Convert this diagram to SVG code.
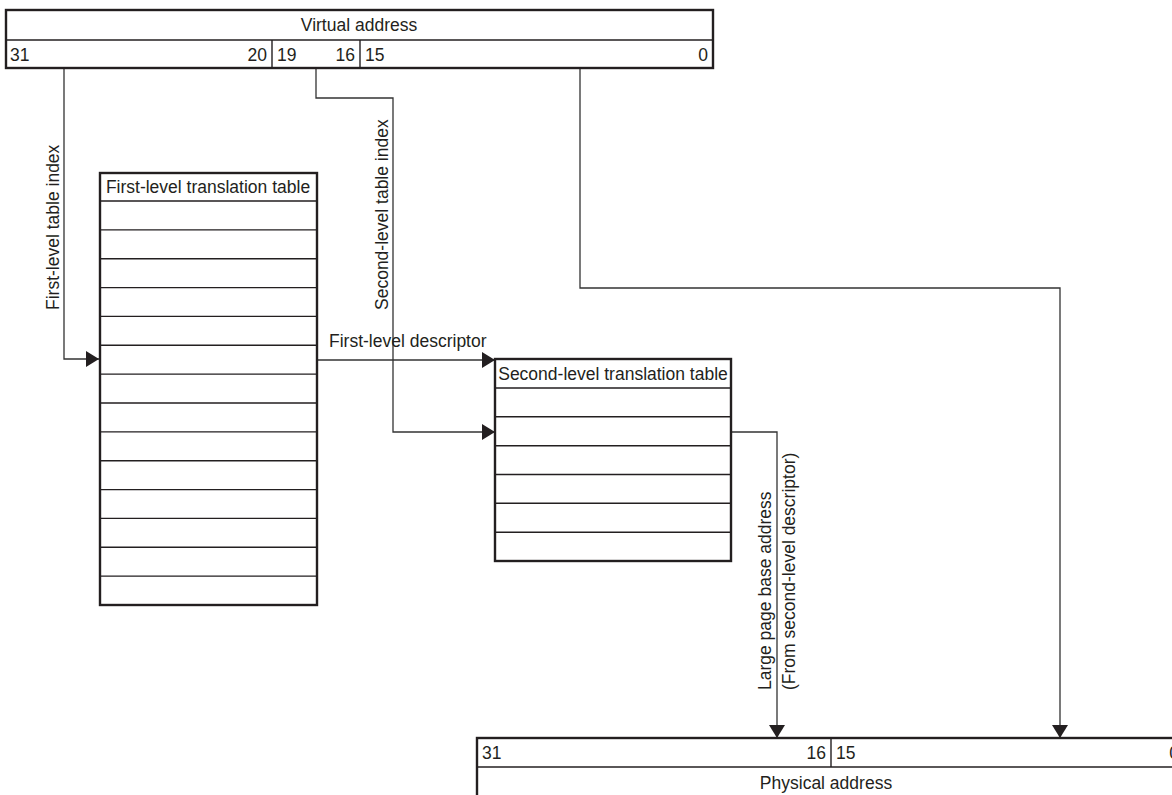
<svg xmlns="http://www.w3.org/2000/svg" width="1172" height="795" viewBox="0 0 1172 795">
<defs>
<style>
text{font-family:"Liberation Sans",Arial,sans-serif;font-size:17.5px;fill:#231f20}
.box{fill:#fff;stroke:#231f20;stroke-width:2.4}
.row{stroke:#231f20;stroke-width:1.4;fill:none}
.conn{stroke:#333;stroke-width:1.3;fill:none}
.mid{text-anchor:middle}
.end{text-anchor:end}
</style>
<marker id="arr" markerUnits="userSpaceOnUse" markerWidth="14" markerHeight="16" refX="13" refY="8" orient="auto">
<path d="M0,0 L13,8 L0,16 Z" fill="#231f20"/>
</marker>
</defs>
<rect width="1172" height="795" fill="#fff"/>

<g id="connectors">
<path class="conn" d="M64,68 V359 H99" marker-end="url(#arr)"/>
<path class="conn" d="M316,68 V98 H393 V432 H495" marker-end="url(#arr)"/>
<path class="conn" d="M317,360 H495" marker-end="url(#arr)"/>
<path class="conn" d="M731,432 H777 V738" marker-end="url(#arr)"/>
<path class="conn" d="M580,68 V288 H1060 V738" marker-end="url(#arr)"/>
<text x="329" y="347">First-level descriptor</text>
<text transform="translate(59,310) rotate(-90)">First-level table index</text>
<text transform="translate(388,310) rotate(-90)">Second-level table index</text>
<text transform="translate(771,690) rotate(-90)">Large page base address</text>
<text transform="translate(795,690) rotate(-90)">(From second-level descriptor)</text>
</g>

<g id="virtual-address">
<rect class="box" x="6" y="10" width="707" height="58"/>
<line class="row" x1="6" y1="40" x2="713" y2="40"/>
<line class="row" x1="272" y1="40" x2="272" y2="68"/>
<line class="row" x1="360" y1="40" x2="360" y2="68"/>
<text class="mid" x="359" y="31">Virtual address</text>
<text x="10" y="61">31</text>
<text class="end" x="267" y="61">20</text>
<text x="277" y="61">19</text>
<text class="end" x="355" y="61">16</text>
<text x="365" y="61">15</text>
<text class="end" x="708" y="61">0</text>
</g>

<g id="first-level-table">
<rect class="box" x="100" y="173" width="217" height="432"/>
<path class="row" d="M100,201H317M100,229.9H317M100,258.7H317M100,287.6H317M100,316.4H317M100,345.3H317M100,374.1H317M100,403H317M100,431.9H317M100,460.7H317M100,489.6H317M100,518.4H317M100,547.3H317M100,576.1H317"/>
<text class="mid" x="208" y="193">First-level translation table</text>
</g>

<g id="second-level-table">
<rect class="box" x="495" y="359" width="236" height="202"/>
<path class="row" d="M495,388H731M495,416.8H731M495,445.7H731M495,474.5H731M495,503.3H731M495,532.2H731"/>
<text class="mid" x="613" y="380">Second-level translation table</text>
</g>

<g id="physical-address">
<rect class="box" x="477" y="738" width="720" height="70"/>
<line class="row" x1="477" y1="767" x2="1197" y2="767"/>
<line class="row" x1="831" y1="738" x2="831" y2="767"/>
<text x="482" y="759">31</text>
<text class="end" x="826" y="759">16</text>
<text x="836" y="759">15</text>
<text class="end" x="1179" y="759">0</text>
<text class="mid" x="826" y="789">Physical address</text>
</g>
</svg>
